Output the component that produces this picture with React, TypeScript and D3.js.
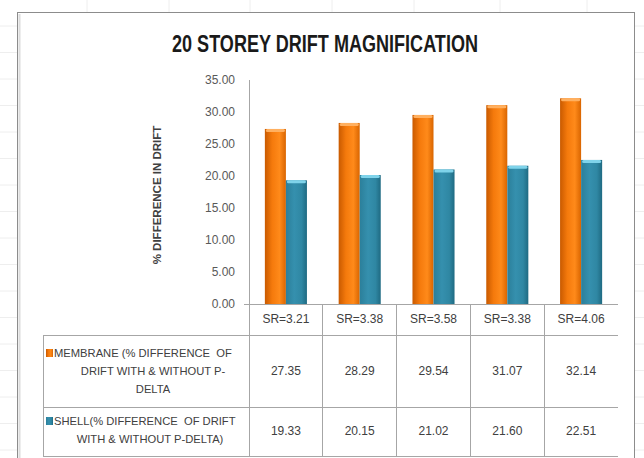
import * as d3 from 'd3';

const categories = ['SR=3.21', 'SR=3.38', 'SR=3.58', 'SR=3.38', 'SR=4.06'];
const membrane = [27.35, 28.29, 29.54, 31.07, 32.14];
const shell = [19.33, 20.15, 21.02, 21.6, 22.51];
const yTicks = [0, 5, 10, 15, 20, 25, 30, 35];
const membraneLabel = ['MEMBRANE (% DIFFERENCE  OF', 'DRIFT WITH & WITHOUT P-', 'DELTA'];
const shellLabel = ['SHELL(% DIFFERENCE  OF DRIFT', 'WITH & WITHOUT P-DELTA)'];

const W = 644;
const H = 458;
const plot = { left: 249, right: 618, top: 80, bottom: 304 };
const table = { left: 43, catBottom: 335, rowMid: 407, bottom: 456 };
const font = '"Liberation Sans", Arial, sans-serif';

export default function App() {
  const idx = categories.map((_, i) => String(i));
  const x = d3
    .scaleBand()
    .domain(idx)
    .range([plot.left, plot.right])
    .paddingInner(0.43)
    .paddingOuter(0.215);
  const sub = d3.scaleBand().domain(['m', 's']).range([0, x.bandwidth()]);
  const y = d3.scaleLinear().domain([0, 35]).range([plot.bottom, plot.top]);
  const step = x.step();
  const colEdge = (i: number) => (x(String(i)) ?? 0) - (step * 0.43) / 2;
  const colMid = (i: number) => (x(String(i)) ?? 0) + x.bandwidth() / 2;

  const gridY = d3.range(0, 18).map((k) => k * 26.5 - 0.5);
  const gridX = [87, 169, 250, 332, 414, 500, 587];

  const series = [
    { key: 'm', values: membrane, grad: 'gOrange', cap: '#ffb060' },
    { key: 's', values: shell, grad: 'gTeal', cap: '#7fd3ea' },
  ];

  return (
    <svg
      width={W}
      height={H}
      style={{ position: 'absolute', left: 0, top: 0, background: '#fff' }}
      fontFamily={font}
    >
      <defs>
        <linearGradient id="gOrange" x1="0" x2="1" y1="0" y2="0">
          <stop offset="0" stopColor="#c95a00" />
          <stop offset="0.35" stopColor="#f57a0c" />
          <stop offset="0.7" stopColor="#ff8a1a" />
          <stop offset="1" stopColor="#d96500" />
        </linearGradient>
        <linearGradient id="gTeal" x1="0" x2="1" y1="0" y2="0">
          <stop offset="0" stopColor="#2b7f9a" />
          <stop offset="0.4" stopColor="#3590ae" />
          <stop offset="0.75" stopColor="#2f87a3" />
          <stop offset="1" stopColor="#1f6a82" />
        </linearGradient>
      </defs>

      {/* faint spreadsheet grid behind the chart */}
      {gridY.map((g) => (
        <line key={'gy' + g} x1={0} x2={W} y1={g} y2={g} stroke="#eeeeee" />
      ))}
      {gridX.map((g) => (
        <line key={'gx' + g} x1={g} x2={g} y1={0} y2={H} stroke="#eeeeee" />
      ))}

      {/* chart frame */}
      <rect x={17.5} y={12.5} width={617} height={460} fill="#fff" stroke="#8c8c8c" />
      <line x1={19.5} x2={19.5} y1={14} y2={H} stroke="#dcdcdc" strokeWidth={2} />

      <text
        x={325}
        y={52}
        textAnchor="middle"
        fontSize={24}
        fontWeight="bold"
        fill="#1a1a1a"
        textLength={306}
        lengthAdjust="spacingAndGlyphs"
        fontFamily={'"Liberation Sans Narrow", ' + font}
      >
        20 STOREY DRIFT MAGNIFICATION
      </text>

      {/* y axis */}
      {yTicks.map((t) => (
        <text
          key={t}
          x={235}
          y={y(t)}
          dy="0.35em"
          textAnchor="end"
          fontSize={12}
          fill="#595959"
        >
          {t.toFixed(2)}
        </text>
      ))}
      <text
        transform={`translate(161,${(plot.top + plot.bottom) / 2 + 3}) rotate(-90)`}
        textAnchor="middle"
        fontSize={11.5}
        fontWeight="bold"
        fill="#404040"
      >
        % DIFFERENCE IN DRIFT
      </text>

      {/* bars */}
      {series.map((s) =>
        s.values.map((v, i) => {
          const bx = (x(String(i)) ?? 0) + (sub(s.key) ?? 0);
          const by = y(v);
          return (
            <g key={s.key + i}>
              <rect x={bx} y={by} width={sub.bandwidth()} height={plot.bottom - by} fill={`url(#${s.grad})`} />
              <rect x={bx + 1} y={by} width={sub.bandwidth() - 2} height={3} rx={1.5} fill={s.cap} />
            </g>
          );
        })
      )}

      {/* axis + data table */}
      <g stroke="#a6a6a6" strokeWidth={1} fill="none" shapeRendering="crispEdges">
        <line x1={plot.left} x2={plot.left} y1={plot.top} y2={table.bottom} />
        <line x1={plot.left - 5} x2={plot.right} y1={plot.bottom} y2={plot.bottom} />
        <line x1={table.left} x2={plot.right} y1={table.catBottom} y2={table.catBottom} />
        <line x1={table.left} x2={plot.right} y1={table.rowMid} y2={table.rowMid} />
        <line x1={table.left} x2={plot.right} y1={table.bottom} y2={table.bottom} />
        <line x1={table.left} x2={table.left} y1={table.catBottom} y2={table.bottom} />
        {categories.map((_, i) => (
          <line key={i} x1={colEdge(i + 1)} x2={colEdge(i + 1)} y1={plot.bottom} y2={table.bottom} />
        ))}
      </g>

      {categories.map((c, i) => (
        <text key={'c' + i} x={colMid(i)} y={319} dy="0.35em" textAnchor="middle" fontSize={12} fill="#404040">
          {c}
        </text>
      ))}
      {membrane.map((v, i) => (
        <text key={'mv' + i} x={colMid(i)} y={371} dy="0.35em" textAnchor="middle" fontSize={12} fill="#404040">
          {v.toFixed(2)}
        </text>
      ))}
      {shell.map((v, i) => (
        <text key={'sv' + i} x={colMid(i)} y={431} dy="0.35em" textAnchor="middle" fontSize={12} fill="#404040">
          {v.toFixed(2)}
        </text>
      ))}

      {/* row headers with legend keys */}
      <rect x={46} y={349} width={7} height={8} fill="url(#gOrange)" />
      {membraneLabel.map((l, k) => (
        <text
          key={'ml' + k}
          x={k === 0 ? 54 : 153}
          y={353 + k * 18}
          dy="0.35em"
          textAnchor={k === 0 ? 'start' : 'middle'}
          fontSize={11.2}
          fill="#404040"
          style={{ whiteSpace: 'pre' }}
        >
          {l}
        </text>
      ))}
      <rect x={46} y={417} width={7} height={8} fill="url(#gTeal)" />
      {shellLabel.map((l, k) => (
        <text
          key={'sl' + k}
          x={k === 0 ? 54 : 150}
          y={421 + k * 18}
          dy="0.35em"
          textAnchor={k === 0 ? 'start' : 'middle'}
          fontSize={11.2}
          fill="#404040"
          style={{ whiteSpace: 'pre' }}
        >
          {l}
        </text>
      ))}
    </svg>
  );
}
